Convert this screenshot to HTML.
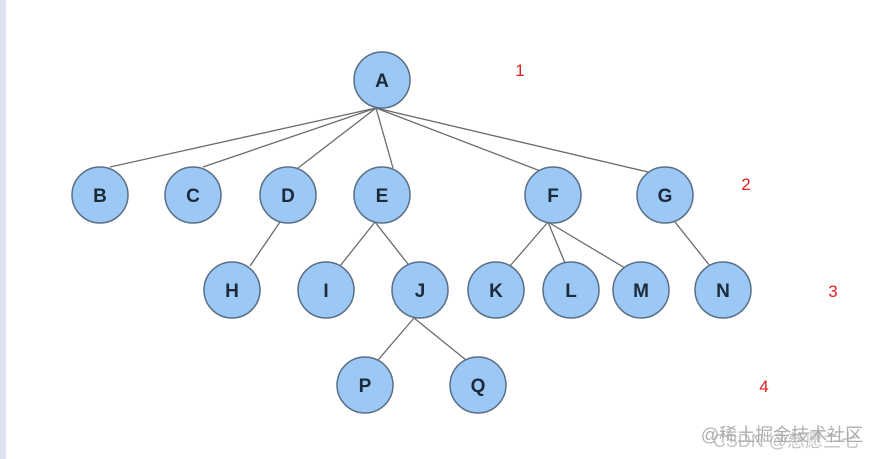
<!DOCTYPE html>
<html><head><style>body{margin:0;background:#fff}svg{display:block}</style></head><body>
<svg width="878" height="459" xmlns="http://www.w3.org/2000/svg" font-family="Liberation Sans, sans-serif">
<rect x="0" y="0" width="6" height="459" fill="#dde3f0"/>
<g stroke="#6b6b6b" stroke-width="1.3" fill="none">
<line x1="376" y1="108" x2="110" y2="167"/>
<line x1="376" y1="108" x2="203" y2="167"/>
<line x1="376" y1="108" x2="298" y2="168"/>
<line x1="376" y1="108" x2="393" y2="168"/>
<line x1="376" y1="108" x2="543" y2="172"/>
<line x1="376" y1="108" x2="648" y2="172"/>
<line x1="280" y1="222" x2="250" y2="266"/>
<line x1="375" y1="222" x2="340" y2="266"/>
<line x1="375" y1="222" x2="408" y2="264"/>
<line x1="548" y1="222" x2="510" y2="266"/>
<line x1="548" y1="222" x2="565" y2="263"/>
<line x1="548" y1="222" x2="625" y2="268"/>
<line x1="675" y1="222" x2="710" y2="266"/>
<line x1="414" y1="318" x2="378" y2="360"/>
<line x1="414" y1="318" x2="466" y2="360"/>
</g>
<g fill="#9cc8f5" stroke="#5a6f86" stroke-width="1.5">
<circle cx="382" cy="80" r="28"/>
<circle cx="100" cy="195" r="28"/><circle cx="193" cy="195" r="28"/><circle cx="288" cy="195" r="28"/><circle cx="382" cy="195" r="28"/><circle cx="553" cy="195" r="28"/><circle cx="665" cy="195" r="28"/>
<circle cx="232" cy="290" r="28"/><circle cx="326" cy="290" r="28"/><circle cx="420" cy="290" r="28"/><circle cx="496" cy="290" r="28"/><circle cx="571" cy="290" r="28"/><circle cx="641" cy="290" r="28"/><circle cx="723" cy="290" r="28"/>
<circle cx="365" cy="385" r="28"/><circle cx="478" cy="385" r="28"/>
</g>
<g fill="#1d2a3a" font-size="19" font-weight="bold" text-anchor="middle">
<text x="382" y="87">A</text>
<text x="100" y="202">B</text><text x="193" y="202">C</text><text x="288" y="202">D</text><text x="382" y="202">E</text><text x="553" y="202">F</text><text x="665" y="202">G</text>
<text x="232" y="297">H</text><text x="326" y="297">I</text><text x="420" y="297">J</text><text x="496" y="297">K</text><text x="571" y="297">L</text><text x="641" y="297">M</text><text x="723" y="297">N</text>
<text x="365" y="392">P</text><text x="478" y="392">Q</text>
</g>
<g fill="#e02020" font-size="17" text-anchor="middle">
<text x="520" y="76">1</text><text x="746" y="190">2</text><text x="833" y="297">3</text><text x="764" y="392">4</text>
</g>
<text x="782" y="441" font-size="18" fill="#999" text-anchor="middle" font-family="Liberation Sans, Noto Sans CJK SC, sans-serif" opacity="0.8">@稀土掘金技术社区</text>
<text x="786" y="447" font-size="18" fill="#aaa" text-anchor="middle" font-family="Liberation Sans, Noto Sans CJK SC, sans-serif" opacity="0.7">CSDN @慈愿兰七</text>
</svg>
</body></html>
